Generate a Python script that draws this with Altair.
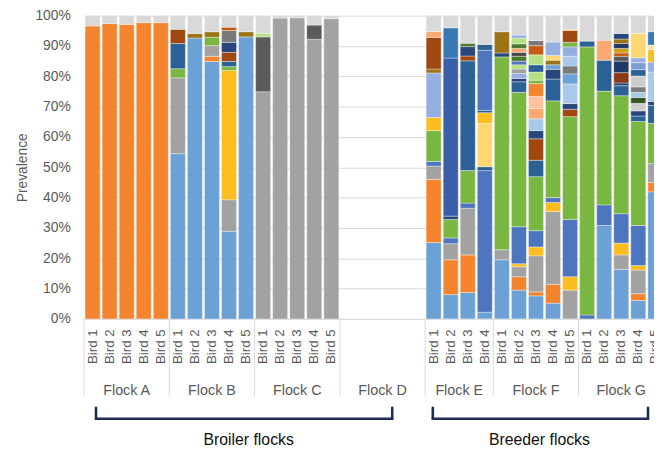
import altair as alt
import pandas as pd

# ---------------- data ----------------
flock_letters = ["A", "B", "C", "D", "E", "F", "G"]
flock_names = ["Flock A", "Flock B", "Flock C", "Flock D", "Flock E", "Flock F", "Flock G"]
flock_slots = [5, 5, 5, 5, 4, 5, 5]           # Flock D: empty slots, no birds sampled
group_names = ["Broiler flocks", "Breeder flocks"]

# cumulative prevalence (%) at the top of each stacked segment, bottom -> top
A1 = [("or", 96.6)]
A2 = [("or", 97.4)]
A3 = [("or", 97.1)]
A4 = [("or", 97.7)]
A5 = [("or", 97.7)]
B1 = [("lb", 54.5), ("gr", 79.5), ("gn", 82.5), ("db", 90.8), ("br", 95.5)]
B2 = [("lb", 92.6), ("dy", 94.1)]
B3 = [("lb", 84.9), ("or", 86.6), ("gr", 90.1), ("gn", 92.9), ("dy", 94.7)]
B4 = [("lb", 28.9), ("gr", 39.3), ("ye", 81.9), ("gn", 83.2), ("db", 84.9), ("br", 87.9),
      ("nv", 91.2), ("mg", 95.1), ("og", 96.2)]
B5 = [("lb", 93.0), ("dy", 94.7)]
C1 = [("gr", 74.9), ("dg", 93.0), ("lgn", 94.2)]
C2 = [("gr", 99.2)]
C3 = [("gr", 99.3)]
C4 = [("gr", 92.2), ("dg", 96.9)]
C5 = [("gr", 99.0)]
E1 = [("lb", 25.2), ("or", 46.0), ("gr", 50.4), ("mb", 51.9), ("gn", 62.1), ("ye", 66.4),
      ("pw", 81.1), ("dy", 82.4), ("br", 92.8), ("lo", 94.8)]
E2 = [("lb", 8.0), ("or", 19.5), ("gr", 24.8), ("mb", 26.7), ("gn", 32.8), ("nv", 33.9),
      ("mdb", 86.0), ("b2", 96.0)]
E3 = [("lb", 8.7), ("or", 21.1), ("gr", 36.5), ("mb", 38.2), ("gn", 48.9), ("db", 85.1),
      ("br", 86.7), ("nv", 89.8), ("dgn", 90.9)]
E4 = [("lb", 2.2), ("mb", 48.9), ("db", 50.2), ("ly", 64.5), ("ye", 68.0), ("db", 68.8),
      ("mb", 88.6), ("db", 90.5)]
F1 = [("lb", 19.5), ("gr", 22.8), ("gn", 86.4), ("nv", 87.7), ("dy", 94.7)]
F2 = [("lb", 9.5), ("or", 13.9), ("gr", 17.2), ("ye", 18.2), ("mb", 30.4), ("gn", 74.7),
      ("db", 78.2), ("nv", 79.3), ("pw", 80.9), ("gr", 82.4), ("lgn", 83.8), ("mb", 85.0),
      ("dgn", 86.6), ("vdg", 87.9), ("lo", 89.2), ("dgn", 90.7), ("lgn", 92.6), ("pw", 93.6)]
F3 = [("lb", 7.6), ("or", 8.9), ("gr", 20.8), ("ye", 23.7), ("mb", 29.1), ("gn", 46.9),
      ("db", 52.3), ("br", 59.4), ("nv", 62.1), ("lbl", 66.0), ("lo", 69.4), ("pe", 73.4),
      ("or", 77.6), ("gn", 78.7), ("lgn", 81.4), ("db", 83.8), ("lgn", 87.1), ("og", 90.1),
      ("mg", 91.8)]
F4 = [("lb", 5.2), ("or", 11.4), ("gr", 35.4), ("ye", 38.4), ("mb", 40.0), ("gn", 71.9),
      ("db", 79.1), ("nv", 82.3), ("lb", 83.8), ("dy", 85.3), ("ly", 86.9), ("pw", 91.3)]
F5 = [("gr", 9.5), ("ye", 13.9), ("mb", 32.8), ("gn", 66.7), ("br", 69.1), ("nv", 71.0),
      ("lbl", 77.5), ("lb", 80.8), ("mg", 83.4), ("lbl", 86.6), ("pw", 89.7), ("gn", 91.2),
      ("br", 95.1), ("lo", 95.5)]
G1 = [("mb", 1.3), ("gn", 89.7), ("db", 91.6)]
G2 = [("lb", 30.8), ("mb", 37.6), ("gn", 75.1), ("db", 85.3), ("lo", 91.9)]
G3 = [("lb", 16.3), ("gr", 21.1), ("ye", 25.0), ("mb", 34.7), ("gn", 73.6), ("db", 76.9),
      ("nv", 77.8), ("rb", 81.2), ("dn", 85.0), ("dg", 86.6), ("og", 87.7), ("gd", 89.2),
      ("dn", 90.8), ("dy", 92.3), ("nv", 94.1)]
G4 = [("lb", 6.1), ("or", 8.3), ("gr", 16.1), ("ye", 17.6), ("mb", 30.8), ("gn", 65.1),
      ("db", 66.9), ("nv", 68.6), ("lgy", 71.1), ("dg2", 73.0), ("lbl", 74.7), ("mg", 76.5),
      ("lgy", 80.1), ("db", 82.2), ("pw2", 84.5), ("pw", 86.1), ("ly", 94.1)]
G5 = [("lb", 41.9), ("or", 45.0), ("gr", 51.2), ("gn", 64.5), ("db", 70.4), ("nv", 71.7),
      ("lbl", 81.4), ("pw", 84.7), ("ye", 88.8), ("lyw", 90.3), ("b2", 94.7)]

bars = {"A1": A1, "A2": A2, "A3": A3, "A4": A4, "A5": A5,
        "B1": B1, "B2": B2, "B3": B3, "B4": B4, "B5": B5,
        "C1": C1, "C2": C2, "C3": C3, "C4": C4, "C5": C5,
        "E1": E1, "E2": E2, "E3": E3, "E4": E4,
        "F1": F1, "F2": F2, "F3": F3, "F4": F4, "F5": F5,
        "G1": G1, "G2": G2, "G3": G3, "G4": G4, "G5": G5}

# ---------------- styles ----------------
palette = {
    "lb": "#6CA1D6", "or": "#F5842F", "gr": "#A2A2A2", "ye": "#FDBD1F", "mb": "#4E76BE",
    "gn": "#7AB642", "db": "#2C6195", "br": "#A04712", "dg": "#5B5B5B", "dy": "#9C7417",
    "nv": "#28457C", "dgn": "#4C7A2E", "pw": "#97AEE0", "lo": "#FBA873", "pe": "#FFC49E",
    "lgn": "#B6E180", "ly": "#FFD772", "lbl": "#A9C9E8", "b2": "#3A78B4", "mdb": "#3B5EA8",
    "og": "#C55A15", "mg": "#7A7A7A", "dn": "#213765", "gd": "#D0A019", "dg2": "#375623",
    "lgy": "#CDCDCD", "vdg": "#474747", "rb": "#8B3A14", "pw2": "#7F9CD8", "lyw": "#FFE699",
    "rest": "#D9D9D9",
}
FONT = "Liberation Sans"
TXT = "#595959"

# ---------------- tables ----------------
slots = []
for L, n in zip(flock_letters, flock_slots):
    for i in range(1, n + 1):
        slots.append(f"{L}{i}")

rows = []
for slot, segs in bars.items():
    prev = 0.0
    for k, (cat, top) in enumerate(segs):
        rows.append({"slot": slot, "cat": cat, "seg": k, "value": round(top - prev, 2)})
        prev = top
    rows.append({"slot": slot, "cat": "rest", "seg": len(segs), "value": round(100 - prev, 2)})
df = pd.DataFrame(rows)

starts = [sum(flock_slots[:i]) for i in range(len(flock_slots))]
flock_df = pd.DataFrame({"name": flock_names,
                         "mid": [s + n / 2 for s, n in zip(starts, flock_slots)]})
sep_df = pd.DataFrame({"b": starts + [sum(flock_slots)]})

# bracket extents in slot units (layout)
brackets = pd.DataFrame({"name": group_names, "x0": [0.7, 20.45], "x1": [18.07, 33.07],
                         "mid": [9.65, 26.7]})

NSLOT = sum(flock_slots)
FULL = 587          # full width of all slots (the right end runs past the page, as in the reference)
W, H = 577, 307
xq = alt.Scale(domain=[0, NSLOT], range=[0, FULL], nice=False, zero=False)

bar = alt.Chart(df).mark_bar(stroke="white", strokeWidth=0.5, strokeOpacity=0.7).encode(
    x=alt.X("slot:N",
            scale=alt.Scale(domain=slots, range=[0, FULL], paddingInner=0.12, paddingOuter=0.06),
            axis=alt.Axis(title=None, labelAngle=-90, labelFontSize=13.5, labelColor=TXT,
                          labelFont=FONT, labelPadding=10, ticks=False, tickSize=0,
                          domainColor="#D9D9D9", labelBound=False, labelOverlap=False,
                          labelExpr="indexof(datum.value, 'D') == 0 ? '' : 'Bird ' + substring(datum.value, 1)")),
    y=alt.Y("value:Q", stack="zero",
            scale=alt.Scale(domain=[0, 100], nice=False),
            axis=alt.Axis(title="Prevalence", values=list(range(0, 101, 10)),
                          labelExpr="datum.value + '%'", grid=True, gridColor="#D9D9D9",
                          domain=False, ticks=False, tickSize=0, labelPadding=14,
                          labelFontSize=14, labelColor=TXT, labelFont=FONT,
                          titleFontSize=14, titleColor=TXT, titleFont=FONT,
                          titleFontWeight="normal", titlePadding=5)),
    color=alt.Color("cat:N", scale=alt.Scale(domain=list(palette.keys()),
                                             range=list(palette.values())), legend=None),
    order=alt.Order("seg:Q", sort="ascending"),
)

seps = alt.Chart(sep_df).mark_rule(color="#D9D9D9", strokeWidth=1).encode(
    x=alt.X("b:Q", scale=xq, axis=None), y=alt.value(H), y2=alt.value(H + 78))

flock_txt = alt.Chart(flock_df).mark_text(fontSize=14.5, color=TXT, font=FONT,
                                          baseline="middle").encode(
    x=alt.X("mid:Q", scale=xq, axis=None), y=alt.value(H + 73), text="name:N")

br_h = alt.Chart(brackets).mark_rule(color="#1F2C56", strokeWidth=2.6, strokeCap="round").encode(
    x=alt.X("x0:Q", scale=xq, axis=None), x2="x1:Q", y=alt.value(H + 101))
br_l = alt.Chart(brackets).mark_rule(color="#1F2C56", strokeWidth=2.6, strokeCap="round").encode(
    x=alt.X("x0:Q", scale=xq, axis=None), y=alt.value(H + 90), y2=alt.value(H + 101))
br_r = alt.Chart(brackets).mark_rule(color="#1F2C56", strokeWidth=2.6, strokeCap="round").encode(
    x=alt.X("x1:Q", scale=xq, axis=None), y=alt.value(H + 90), y2=alt.value(H + 101))

grp_txt = alt.Chart(brackets).mark_text(fontSize=16, color="#111111", font=FONT,
                                        baseline="middle").encode(
    x=alt.X("mid:Q", scale=xq, axis=None), y=alt.value(H + 123), text="name:N")

chart = alt.layer(bar, seps, flock_txt, br_h, br_l, br_r, grp_txt).resolve_scale(
    x="independent"
).properties(
    width=W, height=H, autosize="none",
    padding={"left": 77, "top": 5, "right": 0, "bottom": 132},
    background="white",
).configure_view(strokeWidth=0)

chart.save("out.html", embed_options={"renderer": "svg", "actions": False})
